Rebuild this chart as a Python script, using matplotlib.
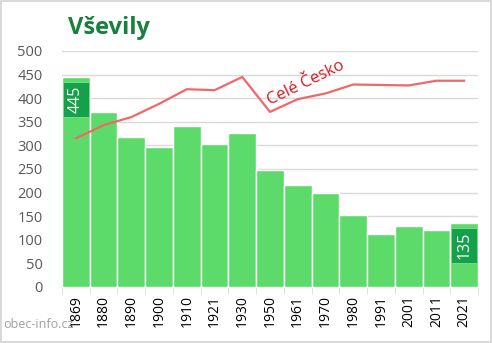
import matplotlib
matplotlib.use("Agg")
import matplotlib.pyplot as plt
import numpy as np

years = ["1869", "1880", "1890", "1900", "1910", "1921", "1930", "1950",
         "1961", "1970", "1980", "1991", "2001", "2011", "2021"]
population = [445, 371, 318, 297, 341, 303, 326, 248, 216, 199, 153, 112, 129, 121, 135]
cesko_scaled = [315, 343, 360, 388, 419, 417, 445, 371, 398, 410, 429, 428, 427, 437, 437]
yticks = [0, 50, 100, 150, 200, 250, 300, 350, 400, 450, 500]
title = "Vševily"
line_label = "Celé Česko"
watermark = "obec-info.cz"

bar_color = "#5cdb6a"
label_box = "#15a04b"
line_color = "#f06868"
gray = "#595959"

fig = plt.figure(figsize=(4.92, 3.43), dpi=100)
fig.patch.set_facecolor("white")
fig.patch.set_edgecolor("#d9d9d9")
fig.patch.set_linewidth(1.5)
ax = fig.add_axes([62/492, 1-287/343, 416/492, 236/343])

x = np.arange(len(years))
ax.bar(x, population, width=1.0, color=bar_color, edgecolor="white", linewidth=1, zorder=2)
ax.plot(x, cesko_scaled, color=line_color, linewidth=1.6, zorder=3)

# value label boxes on first and last bars
for i in (0, len(years)-1):
    v = population[i]
    ax.bar(x[i], 74, bottom=v-47-37, width=0.92, color=label_box,
           edgecolor="#7fe08a", linewidth=0.6, zorder=4)
    ax.text(x[i], v-47, str(v), rotation=90, ha="center", va="center",
            color="white", fontsize=11.5, family="Open Sans", zorder=5)

ax.text(8.3, 433, line_label, rotation=26, ha="center", va="center",
        color="#e0141c", fontsize=12, family="Open Sans", zorder=5)

ax.set_xlim(-0.5, len(years)-0.5)
ax.set_ylim(0, 500)
ax.set_yticks(yticks)
ax.set_yticklabels([str(t) for t in yticks], fontsize=10.5, color=gray, family="Open Sans")
ax.set_xticks(x)
ax.set_xticklabels(years, rotation=90, fontsize=10, color="black", family="Open Sans")
ax.tick_params(axis="x", which="major", length=0, pad=6)
ax.set_xticks(np.arange(-0.5, len(years)), minor=True)
ax.tick_params(axis="x", which="minor", length=5, color="#d9d9d9")
ax.tick_params(axis="y", length=0, pad=14)
ax.grid(axis="y", color="#d9d9d9", linewidth=1, zorder=0)
ax.set_axisbelow(True)
for s in ax.spines.values():
    s.set_visible(False)

fig.text(68/492, 1-28/343, title, fontsize=17, fontweight="bold", color="#17803d",
         family="Open Sans", va="center", ha="left")
fig.text(3/492, 1-324/343, watermark, fontsize=9, color="#a0a0a0",
         family="Open Sans", va="center", ha="left")

fig.savefig("out.png", dpi=100)
